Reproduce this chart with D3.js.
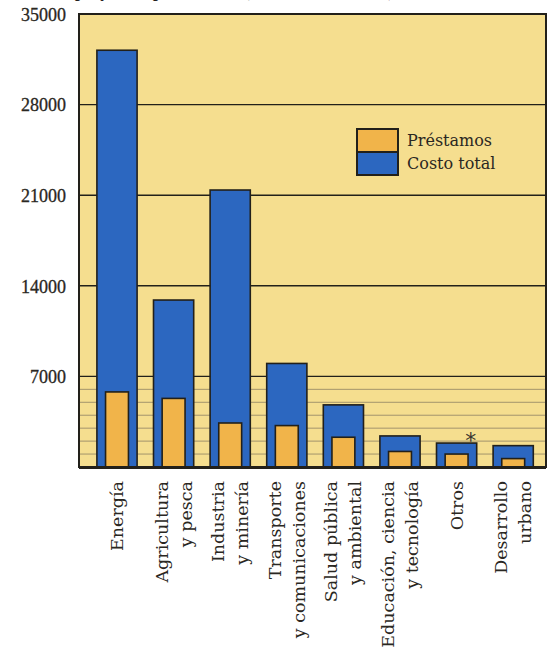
<!DOCTYPE html>
<html><head><meta charset="utf-8">
<script src="https://cdn.jsdelivr.net/npm/d3@7"></script>
<style>html,body{margin:0;padding:0;background:#fff;}svg{display:block;}</style>
</head><body>
<svg id="chart" width="548" height="654"></svg>
<script>
// ---- data ----
const categories = [
  ["Energía"],
  ["Agricultura", "y pesca"],
  ["Industria", "y minería"],
  ["Transporte", "y comunicaciones"],
  ["Salud pública", "y ambiental"],
  ["Educación, ciencia", "y tecnología"],
  ["Otros"],
  ["Desarrollo", "urbano"]
];
const costoTotal = [32200, 12900, 21400, 8000, 4800, 2400, 1850, 1650];
const prestamos  = [5800, 5300, 3400, 3200, 2300, 1200, 1000, 650];
const majorTicks = [7000, 14000, 21000, 28000, 35000];
const minorTicks = [1000, 2000, 3000, 4000, 5000, 6000];
const seriesNames = ["Préstamos", "Costo total"];
const asteriskCategory = 6;

// ---- layout ----
const svg = d3.select("#chart");
const plotL = 79, plotR = 546, plotT = 14, plotB = 467;
const C = {bg:"#F5DE8F", blue:"#2C67C0", orange:"#F1B44A", ink:"#22201a", minor:"#a3946c"};

const x = d3.scaleBand().domain(d3.range(categories.length))
  .range([88.7, 541.5]).paddingInner(0.29).paddingOuter(0.145);
const y = d3.scaleLinear().domain([0, 35000]).range([plotB, plotT]);

// title (cut off at top of the page, as in the reference)
svg.append("text").attr("x", 75).attr("y", -3)
  .attr("font-family", "Liberation Serif").attr("font-weight", "bold").attr("font-size", 17)
  .attr("fill", C.ink).text("proyectos, por sectores (millones de dólares)");

// plot background
svg.append("rect").attr("x", plotL).attr("y", plotT).attr("width", plotR - plotL).attr("height", plotB - plotT)
  .attr("fill", C.bg);

// minor grid
svg.append("g").selectAll("line").data(minorTicks).join("line")
  .attr("x1", plotL).attr("x2", plotR).attr("y1", d => y(d)).attr("y2", d => y(d))
  .attr("stroke", C.minor).attr("stroke-width", 1);
// major grid
svg.append("g").selectAll("line").data(majorTicks.filter(d => d < 35000)).join("line")
  .attr("x1", plotL).attr("x2", plotR).attr("y1", d => y(d)).attr("y2", d => y(d))
  .attr("stroke", C.ink).attr("stroke-width", 1.4);

// bars
const bw = x.bandwidth();
const ow = bw * 0.57;
svg.append("g").selectAll("rect").data(costoTotal).join("rect")
  .attr("x", (d, i) => x(i)).attr("y", d => y(d)).attr("width", bw).attr("height", d => plotB - y(d))
  .attr("fill", C.blue).attr("stroke", C.ink).attr("stroke-width", 1.6);
svg.append("g").selectAll("rect").data(prestamos).join("rect")
  .attr("x", (d, i) => x(i) + (bw - ow) / 2).attr("y", d => y(d)).attr("width", ow).attr("height", d => plotB - y(d))
  .attr("fill", C.orange).attr("stroke", C.ink).attr("stroke-width", 1.6);

// asterisk
svg.append("text").attr("x", x(asteriskCategory) + bw - 6).attr("y", y(costoTotal[asteriskCategory]) + 5)
  .attr("font-family", "DejaVu Sans").attr("font-size", 22).attr("fill", "#3a3630").attr("text-anchor", "middle")
  .text("*");

// plot frame
svg.append("path")
  .attr("d", `M${plotR},${plotT}H${plotL}V${plotB}H${plotR}Z`)
  .attr("fill", "none").attr("stroke", C.ink).attr("stroke-width", 2);
svg.append("line").attr("x1", plotL).attr("x2", plotR).attr("y1", plotB + 0.5).attr("y2", plotB + 0.5)
  .attr("stroke", C.ink).attr("stroke-width", 3);

// y axis labels
const yAxis = d3.axisLeft(y).tickValues(majorTicks).tickSize(0).tickPadding(13).tickFormat(d3.format("d"));
const ga = svg.append("g").attr("transform", `translate(${plotL},0)`).call(yAxis);
ga.select(".domain").remove();
ga.selectAll("text").attr("font-family", "Liberation Serif").attr("font-size", 18).attr("fill", "#2a2722")
  .attr("stroke", "#2a2722").attr("stroke-width", 0.3).attr("dy", "0.35em");

// category labels (rotated)
const lineH = 24;
categories.forEach((lines, i) => {
  const cx = x(i) + bw / 2;
  const n = lines.length;
  lines.forEach((t, j) => {
    const lx = cx + (j - (n - 1) / 2) * lineH;
    svg.append("text")
      .attr("transform", `translate(${lx + 6},481) rotate(-90)`)
      .attr("text-anchor", "end")
      .attr("font-family", "DejaVu Serif").attr("font-size", 17.5).attr("fill", "#2a2722")
      .text(t);
  });
});

// legend
const lg = svg.append("g").attr("transform", "translate(357,129)");
const sw = 41, sh = 23;
const legendColors = [C.orange, C.blue];
seriesNames.forEach((name, i) => {
  lg.append("rect").attr("x", 0).attr("y", i * sh).attr("width", sw).attr("height", sh)
    .attr("fill", legendColors[i]).attr("stroke", C.ink).attr("stroke-width", 2);
  lg.append("text").attr("x", 50).attr("y", i * sh + sh / 2 + 5)
    .attr("font-family", "DejaVu Serif").attr("font-size", 16).attr("fill", "#2a2722").text(name);
});
</script>
</body></html>
